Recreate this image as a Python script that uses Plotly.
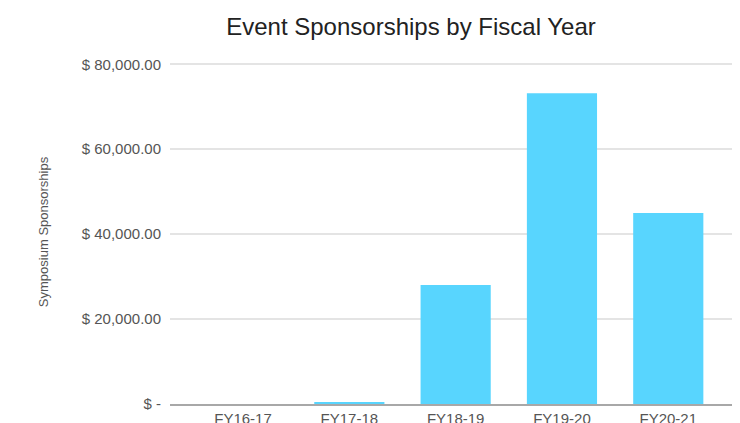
import plotly.graph_objects as go

categories = ["FY16-17", "FY17-18", "FY18-19", "FY19-20", "FY20-21"]
sponsorships = [0, 500, 28000, 73200, 45000]
tick_values = [0, 20000, 40000, 60000, 80000]
tick_labels = ["$ -", "$ 20,000.00", "$ 40,000.00", "$ 60,000.00", "$ 80,000.00"]

fig = go.Figure(
    go.Bar(
        x=categories,
        y=sponsorships,
        marker=dict(color="#58D5FE", line=dict(width=0)),
        width=0.66,
    )
)

fig.update_layout(
    width=740,
    height=423,
    margin=dict(l=162, r=0, t=52, b=27),
    paper_bgcolor="white",
    plot_bgcolor="white",
    font=dict(family="Liberation Sans, Arial, sans-serif", color="#444"),
    title=dict(
        text="Event Sponsorships by Fiscal Year",
        x=403 / 740,
        xanchor="center",
        y=1 - 19 / 423,
        yanchor="middle",
        font=dict(size=24, color="#222"),
    ),
    showlegend=False,
)

fig.update_xaxes(
    type="category",
    range=[-0.687, 4.75],
    showgrid=False,
    showline=True,
    linecolor="#a8a8a8",
    linewidth=2,
    ticks="",
    tickfont=dict(size=15, color="#555"),
)

fig.update_yaxes(
    range=[0, 81000],
    tickvals=tick_values,
    ticktext=tick_labels,
    showgrid=True,
    gridcolor="#e4e4e4",
    gridwidth=2,
    zeroline=False,
    ticks="outside",
    ticklen=5,
    tickcolor="white",
    tickfont=dict(size=15, color="#555"),
    title=dict(text="Symposium Sponsorships", font=dict(size=13, color="#555"), standoff=30),
)

fig.write_html("out.html")
